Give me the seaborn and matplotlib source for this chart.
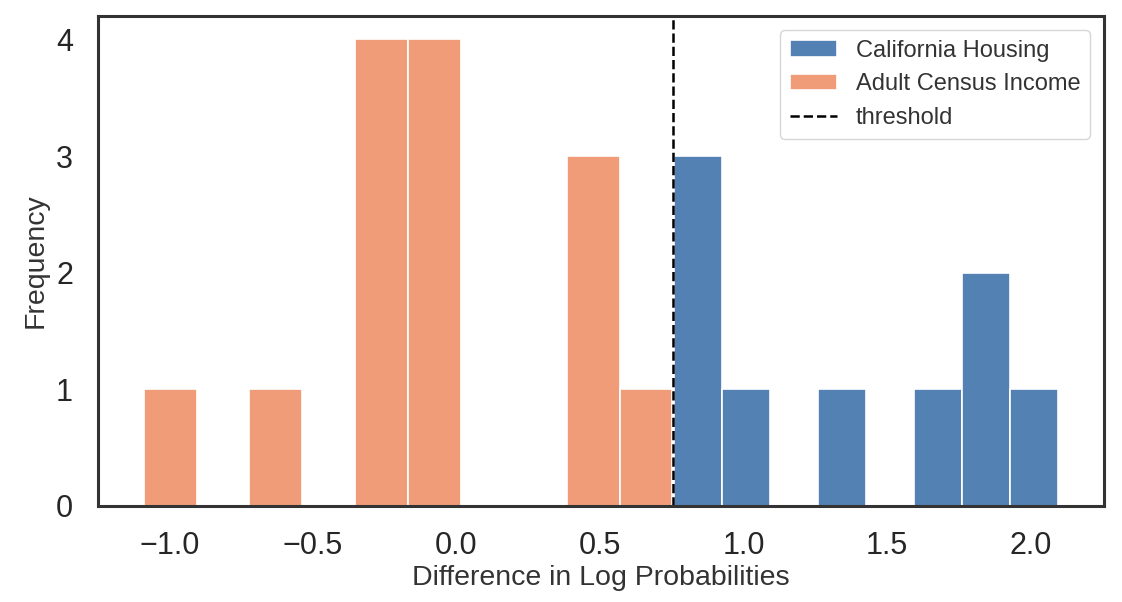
import matplotlib
matplotlib.use("Agg")
import matplotlib.pyplot as plt
import seaborn as sns
import numpy as np

# Data
california_housing = [0.760, 0.80, 0.85, 1.00, 1.35, 1.70, 1.80, 1.85, 2.097]
adult_census_income = [-1.089, -0.62, -0.30, -0.25, -0.22, -0.20, -0.15, -0.10,
                       -0.05, 0.00, 0.45, 0.50, 0.52, 0.753]
threshold = 0.756
labels = ["California Housing", "Adult Census Income", "threshold"]

sns.set_theme(style="white")
plt.rcParams['font.family'] = ['Liberation Sans', 'DejaVu Sans']

fig = plt.figure(figsize=(11.22, 6.02), dpi=100)
ax = fig.add_axes([0.0873, 0.1595, 0.8967, 0.8139])

sns.histplot(x=california_housing, bins=8, color="#5481b3", alpha=1.0,
             edgecolor="white", linewidth=1.2, ax=ax, label=labels[0])
sns.histplot(x=adult_census_income, bins=10, color="#f09c78", alpha=1.0,
             edgecolor="white", linewidth=1.2, ax=ax, label=labels[1])
ax.axvline(threshold, color="black", linestyle="--", linewidth=1.8, label=labels[2])

ax.set_xlabel("Difference in Log Probabilities", fontsize=20.5, color="#333333", labelpad=3)
ax.set_ylabel("Frequency", fontsize=20.5, color="#333333", labelpad=5)
ax.tick_params(axis="both", labelsize=22, colors="#262626", length=0, pad=18)
ax.set_yticks([0, 1, 2, 3, 4])
for s in ax.spines.values():
    s.set_linewidth(2.2)
    s.set_color("#333333")

handles, lbls = ax.get_legend_handles_labels()
order = [lbls.index(l) for l in labels]
leg = ax.legend([handles[i] for i in order], [lbls[i] for i in order],
                loc="upper right", fontsize=17, frameon=True, handlelength=2.0,
                borderaxespad=0.6)
leg.get_frame().set_edgecolor("#cccccc")
for t in leg.get_texts():
    t.set_color("#333333")

fig.savefig("out.png", dpi=100)
